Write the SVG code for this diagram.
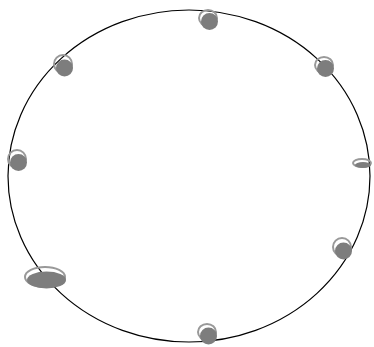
<svg xmlns="http://www.w3.org/2000/svg" width="374" height="347" viewBox="0 0 374 347">
<style>
.ring{fill:none;stroke:#999;stroke-width:2}
.dot{fill:#7d7d7d}
.edge{fill:none;stroke:#000;stroke-width:1.2}
</style>
<rect width="374" height="347" fill="#fff"/>
<g id="connectors">
<ellipse class="edge" cx="189" cy="176" rx="181" ry="166"/>
</g>
<g id="n1"><ellipse class="ring" cx="208" cy="18" rx="9" ry="8"/><ellipse class="dot" cx="209.5" cy="21.5" rx="8.5" ry="8.5"/></g>
<g id="n2"><ellipse class="ring" cx="324" cy="65" rx="9" ry="8"/><ellipse class="dot" cx="325.5" cy="68.5" rx="8.5" ry="8.5"/></g>
<g id="n3"><ellipse class="ring" cx="362" cy="163" rx="9" ry="4"/><ellipse class="dot" cx="363" cy="165" rx="8" ry="3"/></g>
<g id="n4"><ellipse class="ring" cx="342" cy="247" rx="9" ry="9"/><ellipse class="dot" cx="343.5" cy="251" rx="8.5" ry="8.5"/></g>
<g id="n5"><ellipse class="ring" cx="207" cy="332" rx="9" ry="8"/><ellipse class="dot" cx="208.5" cy="336" rx="8.5" ry="8.5"/></g>
<g id="n6"><ellipse class="ring" cx="45" cy="277" rx="20" ry="10"/><ellipse class="dot" cx="46.5" cy="280" rx="19.5" ry="8.5"/></g>
<g id="n7"><ellipse class="ring" cx="17" cy="159" rx="9" ry="9"/><ellipse class="dot" cx="18.5" cy="162.5" rx="8.5" ry="8.5"/></g>
<g id="n8"><ellipse class="ring" cx="63" cy="64" rx="9" ry="9"/><ellipse class="dot" cx="64.5" cy="68" rx="8.5" ry="8.5"/></g>
</svg>
